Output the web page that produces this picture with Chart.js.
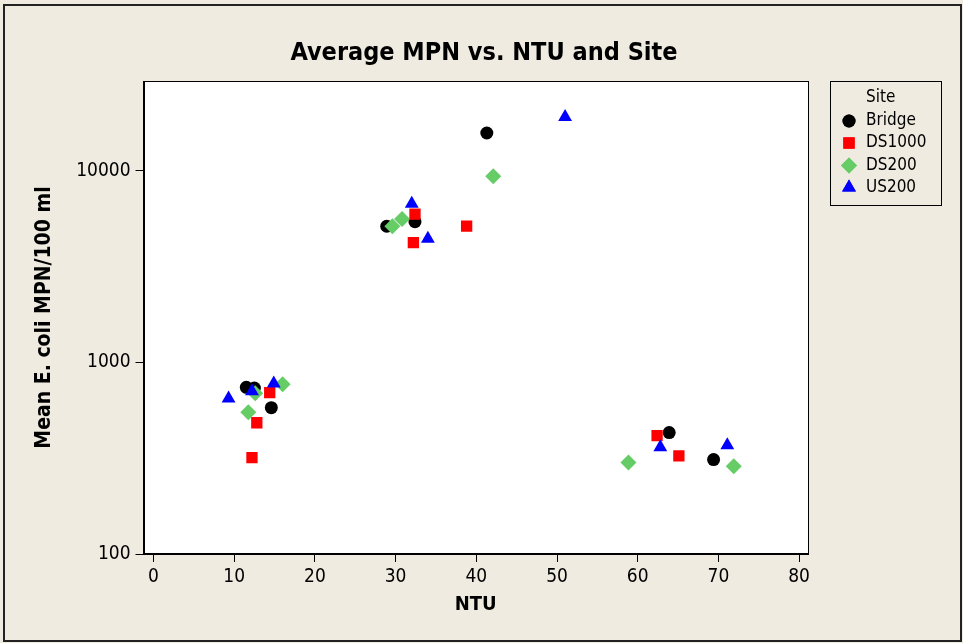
<!DOCTYPE html>
<html>
<head>
<meta charset="utf-8">
<script src="https://cdn.jsdelivr.net/npm/chart.js@4"></script>
<style>
	html, body { margin: 0; padding: 0; background: #efebe0; }
	#wrap { width: 963px; height: 643px; }
</style>
</head>
<body>
<div id="wrap"><canvas id="chart" width="963" height="643"></canvas></div>
<script>
// NTU and mean MPN values
var bridgeNTU = [11.5, 12.5, 14.6, 28.9, 32.4, 41.3, 63.9, 69.4];
var bridgeMPN = [741, 735, 580, 5130, 5420, 15730, 430, 311];
var ds1000NTU = [12.2, 12.8, 14.4, 32.4, 38.8, 32.2, 62.4, 65.1];
var ds1000MPN = [318, 484, 695, 5930, 5140, 4210, 415, 325];
var ds200NTU = [11.75, 12.6, 16.0, 29.6, 30.8, 42.1, 58.85, 71.9];
var ds200MPN = [549, 690, 769, 5130, 5600, 9350, 300, 287];
var us200NTU = [9.3, 12.2, 14.9, 32.0, 34.0, 51.0, 62.8, 71.1];
var us200MPN = [647, 707, 775, 6730, 4420, 19080, 361, 369];

var xTicks = [0, 10, 20, 30, 40, 50, 60, 70, 80];
var yTicks = [100, 1000, 10000];

var chartTitle = 'Average MPN vs. NTU and Site';
var FONT = '"DejaVu Sans Condensed", "DejaVu Sans", sans-serif';

function pairs(xs, ys) {
	return xs.map(function (x, i) { return { x: x, y: ys[i] }; });
}

function series(label, xs, ys, color, style, radius, order) {
	return {
		label: label,
		data: pairs(xs, ys),
		pointStyle: style,
		pointRadius: radius,
		pointHoverRadius: radius,
		backgroundColor: color,
		borderColor: color,
		borderWidth: 0,
		order: order
	};
}

// frame, white plot area, title and the legend box
var decor = {
	id: 'decor',
	beforeDraw: function (chart) {
		var ctx = chart.ctx, a = chart.chartArea;
		ctx.save();
		ctx.fillStyle = '#efebe0';
		ctx.fillRect(0, 0, chart.width, chart.height);
		ctx.strokeStyle = '#222';
		ctx.lineWidth = 2;
		ctx.strokeRect(4, 5, 957, 636);
		ctx.fillStyle = '#ffffff';
		ctx.fillRect(a.left, a.top, a.right - a.left, a.bottom - a.top);

		// title is centred on the whole page, not on the plot
		ctx.fillStyle = '#000';
		ctx.font = 'bold 25px ' + FONT;
		ctx.textAlign = 'center';
		ctx.textBaseline = 'alphabetic';
		ctx.fillText(chartTitle, 484, 60);
		ctx.restore();
	},
	afterDraw: function (chart) {
		var ctx = chart.ctx, a = chart.chartArea;
		ctx.save();
		ctx.strokeStyle = '#000';
		ctx.lineWidth = 1;
		ctx.strokeRect(Math.round(a.left) + 0.5, Math.round(a.top) + 0.5,
			Math.round(a.right - a.left) - 1, Math.round(a.bottom - a.top) - 1);

		// legend
		ctx.strokeRect(830.5, 81.5, 111, 124);
		ctx.fillStyle = '#000';
		ctx.font = '17px ' + FONT;
		ctx.textBaseline = 'middle';
		ctx.fillText('Site', 866, 98);
		var rows = [121, 143, 165.5, 187.5];
		chart.data.datasets.forEach(function (ds, i) {
			ctx.fillStyle = ds.backgroundColor;
			Chart.helpers.drawPoint(ctx, {
				pointStyle: ds.pointStyle,
				radius: ds.pointRadius,
				borderWidth: 0
			}, 849, rows[i]);
			ctx.fill();
			ctx.fillStyle = '#000';
			ctx.fillText(ds.label, 866, rows[i]);
		});
		ctx.restore();
	}
};

new Chart(document.getElementById('chart').getContext('2d'), {
	type: 'scatter',
	data: {
		datasets: [
			series('Bridge', bridgeNTU, bridgeMPN, '#000000', 'circle', 6.5, 4),
			series('DS1000', ds1000NTU, ds1000MPN, '#ff0000', 'rect', 8, 3),
			series('DS200', ds200NTU, ds200MPN, '#66cc66', 'rectRot', 8, 2),
			series('US200', us200NTU, us200MPN, '#0000ff', 'triangle', 8, 1)
		]
	},
	options: {
		responsive: false,
		animation: false,
		layout: { padding: { left: 0, right: 155, top: 81, bottom: 0 } },
		plugins: {
			legend: { display: false },
			tooltip: { enabled: false },
			title: { display: false }
		},
		scales: {
			x: {
				type: 'linear',
				min: -1.24,
				max: 81.1,
				afterBuildTicks: function (scale) {
					scale.ticks = xTicks.map(function (v) { return { value: v }; });
				},
				afterFit: function (scale) { scale.height = 89; },
				ticks: {
					color: '#000',
					padding: 4,
					maxRotation: 0,
					font: { family: FONT, size: 19 },
					callback: function (v) { return String(v); }
				},
				grid: { drawOnChartArea: false, tickLength: 8, color: '#000' },
				border: { color: '#000' },
				title: {
					display: true,
					text: 'NTU',
					color: '#000',
					font: { family: FONT, size: 20, weight: 'bold' },
					padding: { top: 0, bottom: 26 }
				}
			},
			y: {
				type: 'logarithmic',
				min: 100,
				max: 29380,
				afterBuildTicks: function (scale) {
					scale.ticks = yTicks.map(function (v) { return { value: v }; });
				},
				afterFit: function (scale) { scale.width = 143.5; },
				ticks: {
					color: '#000',
					padding: 5,
					font: { family: FONT, size: 19 },
					callback: function (v) { return String(v); }
				},
				grid: { drawOnChartArea: false, tickLength: 8, color: '#000' },
				border: { color: '#000' },
				title: {
					display: true,
					text: 'Mean E. coli MPN/100 ml',
					color: '#000',
					font: { family: FONT, size: 21, weight: 'bold' },
					padding: { top: 32, bottom: 0 }
				}
			}
		}
	},
	plugins: [decor]
});
</script>
</body>
</html>
